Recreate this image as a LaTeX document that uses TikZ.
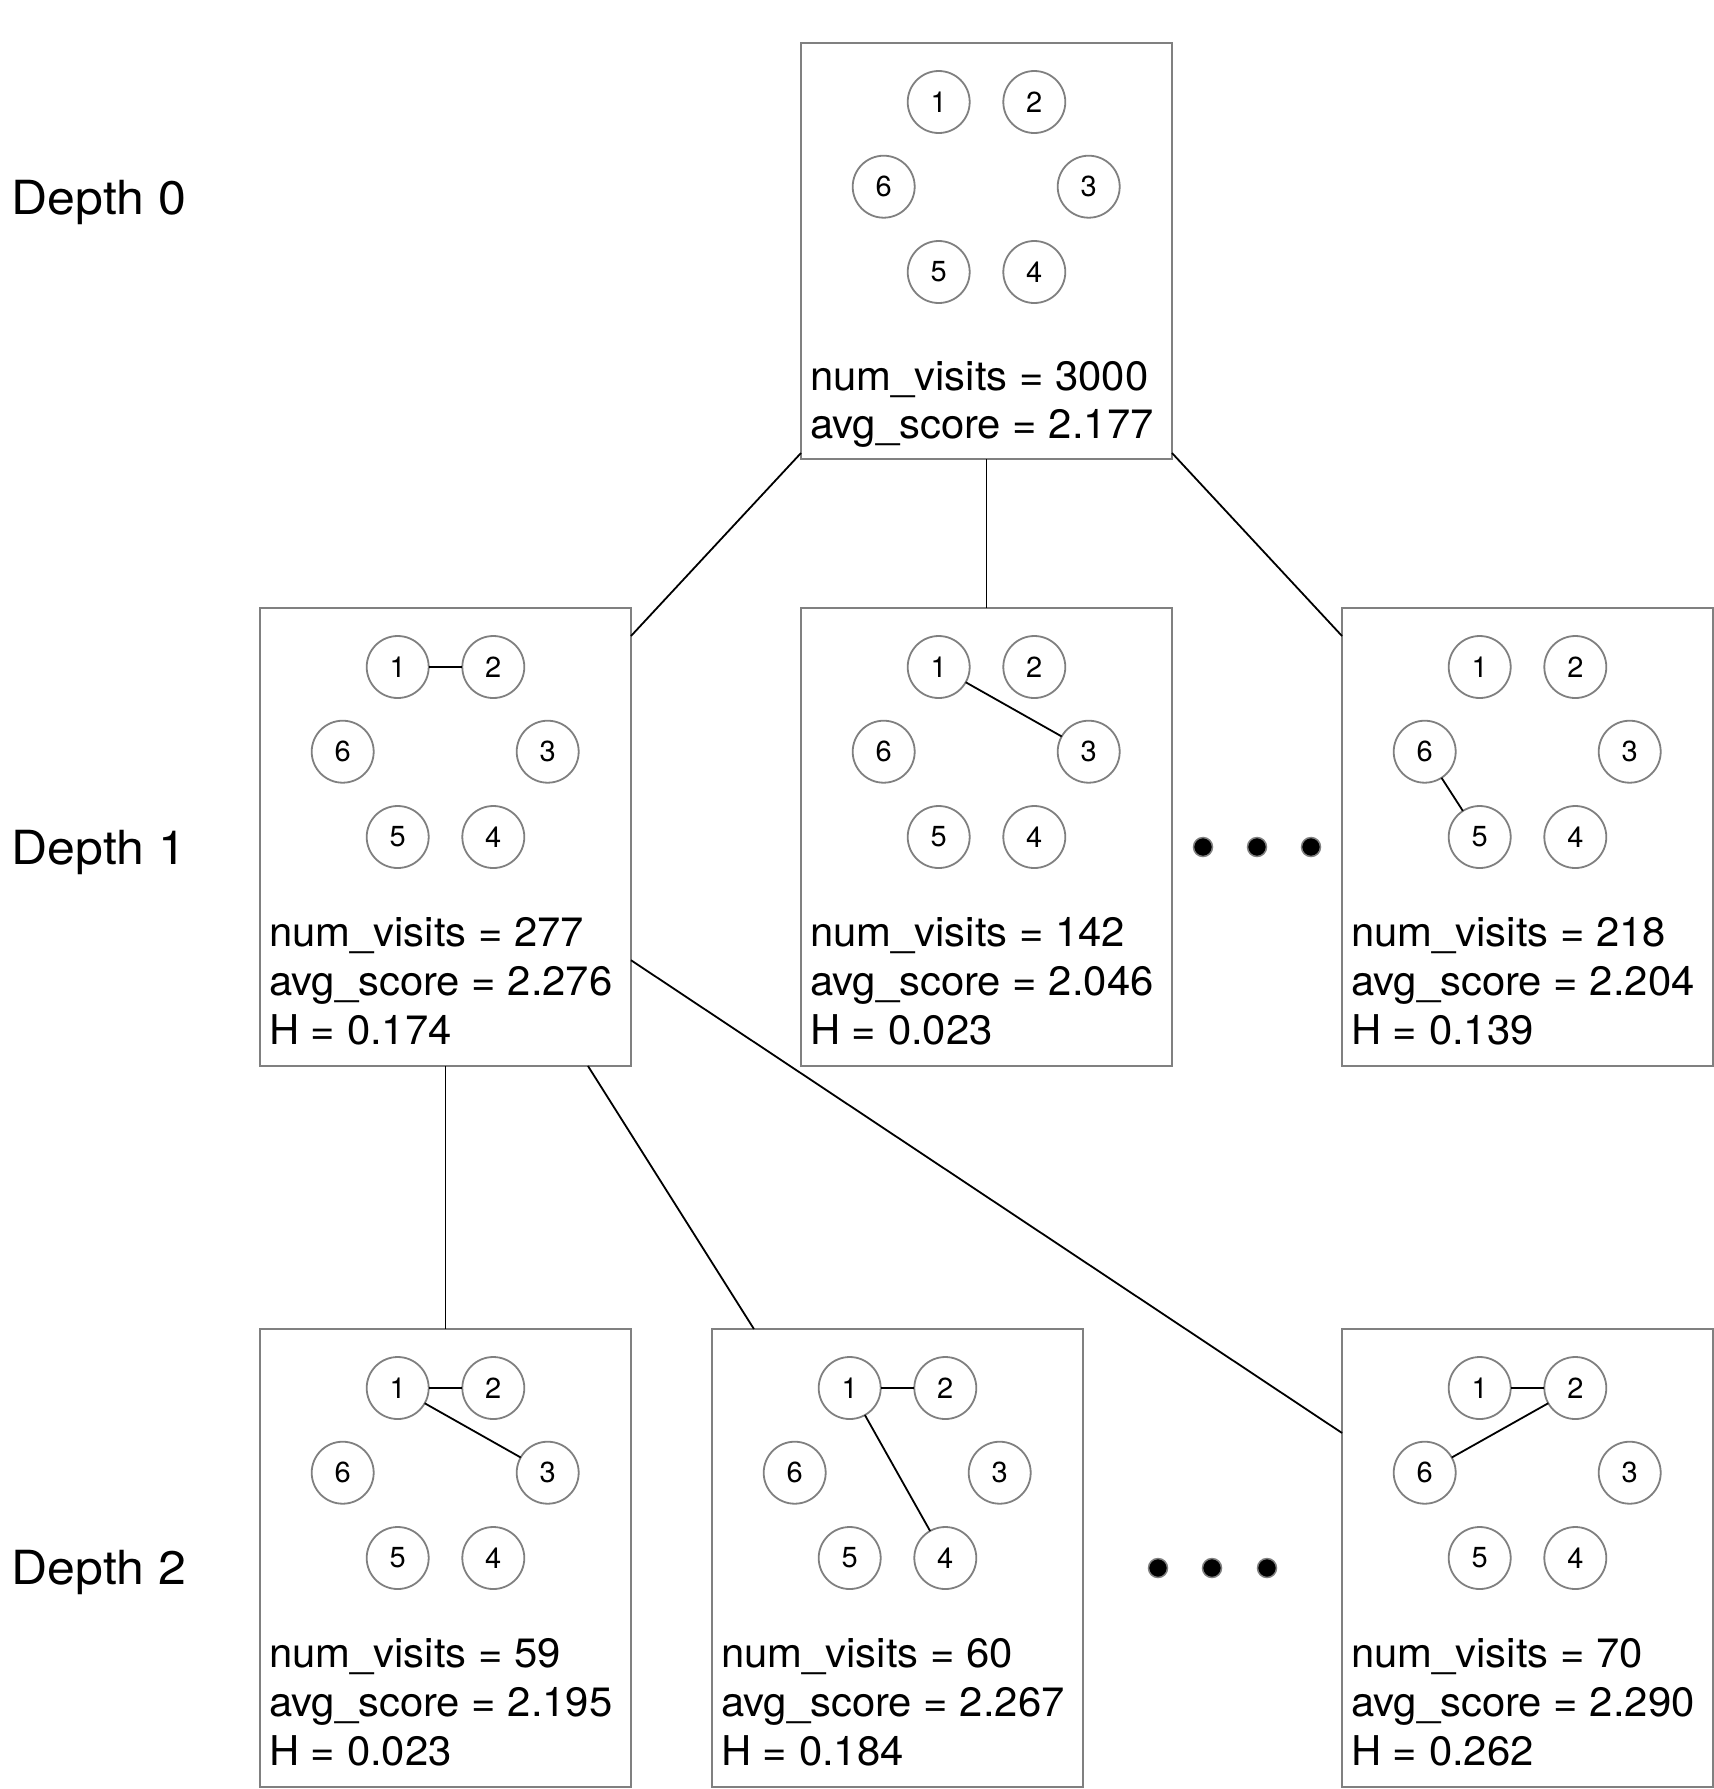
\documentclass[tikz,border=0pt]{standalone}
\usepackage{fontspec}
\setmainfont{TeX Gyre Heros}
\newfontfamily\infofont[FakeStretch=1.02]{TeX Gyre Heros}
\newfontfamily\depthfont[FakeStretch=1.065]{TeX Gyre Heros}
\usetikzlibrary{calc}
\definecolor{bordergray}{RGB}{128,128,128}
\tikzset{
  boardbox/.style={draw=bordergray, line width=2pt, fill=white, minimum width=371pt, inner sep=0pt, outer sep=0pt},
  vtx/.style={circle, draw=bordergray, line width=1.8pt, minimum size=62pt, inner sep=0pt, outer sep=0pt, font=\fontsize{29}{34}\selectfont},
  info/.style={anchor=base west, inner sep=0pt, font=\infofont\fontsize{41}{49}\selectfont},
  depthlabel/.style={anchor=base west, inner sep=0pt, font=\depthfont\fontsize{47}{56}\selectfont},
  link/.style={line width=1.8pt, black},
  tedge/.style={line width=1.8pt, black},
  ellipsisdot/.style={circle, fill=black, draw=bordergray, line width=1.5pt, minimum size=19pt, inner sep=0pt}
}
\newcommand\board[4]{%
  \begin{scope}[shift={(#2,#3)}]
    \node[boardbox, minimum height=#4pt, anchor=north west] (#1) at (0,0) {};
    \node[vtx] (#1-1) at (137.7,59) {1};
    \node[vtx] (#1-2) at (233.3,59) {2};
    \node[vtx] (#1-6) at (82.7,143.7) {6};
    \node[vtx] (#1-3) at (287.7,143.7) {3};
    \node[vtx] (#1-5) at (137.7,229) {5};
    \node[vtx] (#1-4) at (233.3,229) {4};
  \end{scope}}
\newcommand\infolines[5]{%
  \begin{scope}[shift={(#2,#3)}]
    \node[info] (#1-l1) at (9,338) {num\_visits = #4};
    \node[info] (#1-l2) at (9,387) {avg\_score = #5};
  \end{scope}}
\begin{document}
\begin{tikzpicture}[x=1pt,y=-1pt]
\useasboundingbox[fill=white] (0,0) rectangle (1714,1789);

% depth labels
\node[depthlabel] (dl0) at (11.5,214) {Depth 0};
\node[depthlabel] (dl1) at (11.5,864) {Depth 1};
\node[depthlabel] (dl2) at (11.5,1584) {Depth 2};

% boards
\board{t}{801}{43}{416}
\board{a}{260}{608}{458}
\board{b}{801}{608}{458}
\board{c}{1342}{608}{458}
\board{d}{260}{1329}{458}
\board{e}{712}{1329}{458}
\board{f}{1342}{1329}{458}

% text
\node[info] (t-l1) at (810,390) {num\_visits = 3000};
\node[info] (t-l2) at (810,438) {avg\_score = 2.177};

\infolines{a}{260}{608}{277}{2.276}
\node[info] (a-l3) at (269,1044) {H = 0.174};
\infolines{b}{801}{608}{142}{2.046}
\node[info] (b-l3) at (810,1044) {H = 0.023};
\infolines{c}{1342}{608}{218}{2.204}
\node[info] (c-l3) at (1351,1044) {H = 0.139};
\infolines{d}{260}{1329}{59}{2.195}
\node[info] (d-l3) at (269,1765) {H = 0.023};
\infolines{e}{712}{1329}{60}{2.267}
\node[info] (e-l3) at (721,1765) {H = 0.184};
\infolines{f}{1342}{1329}{70}{2.290}
\node[info] (f-l3) at (1351,1765) {H = 0.262};

% edges inside boards
\draw[link] (a-1) -- (a-2);
\draw[link] (b-1) -- (b-3);
\draw[link] (c-6) -- (c-5);
\draw[link] (d-1) -- (d-2);
\draw[link] (d-1) -- (d-3);
\draw[link] (e-1) -- (e-2);
\draw[link] (e-1) -- (e-4);
\draw[link] (f-1) -- (f-2);
\draw[link] (f-2) -- (f-6);

% tree edges
\draw[tedge] ($(t.south west)+(0,-6)$) -- ($(a.north east)+(0,28)$);
\draw[tedge] (t.south) -- (b.north);
\draw[tedge] ($(t.south east)+(0,-6)$) -- ($(c.north west)+(0,28)$);
\draw[tedge] (a.south) -- (d.north);
\draw[tedge] ($(a.south west)!0.884!(a.south east)$) -- ($(e.north west)!0.113!(e.north east)$);
\draw[tedge] ($(a.north east)!0.769!(a.south east)$) -- ($(f.north west)!0.227!(f.south west)$);

% ellipses
\node[ellipsisdot] (e1a) at (1203,847) {};
\node[ellipsisdot] (e1b) at (1257,847) {};
\node[ellipsisdot] (e1c) at (1311,847) {};
\node[ellipsisdot] (e2a) at (1158,1568) {};
\node[ellipsisdot] (e2b) at (1212,1568) {};
\node[ellipsisdot] (e2c) at (1267,1568) {};
\end{tikzpicture}
\end{document}
